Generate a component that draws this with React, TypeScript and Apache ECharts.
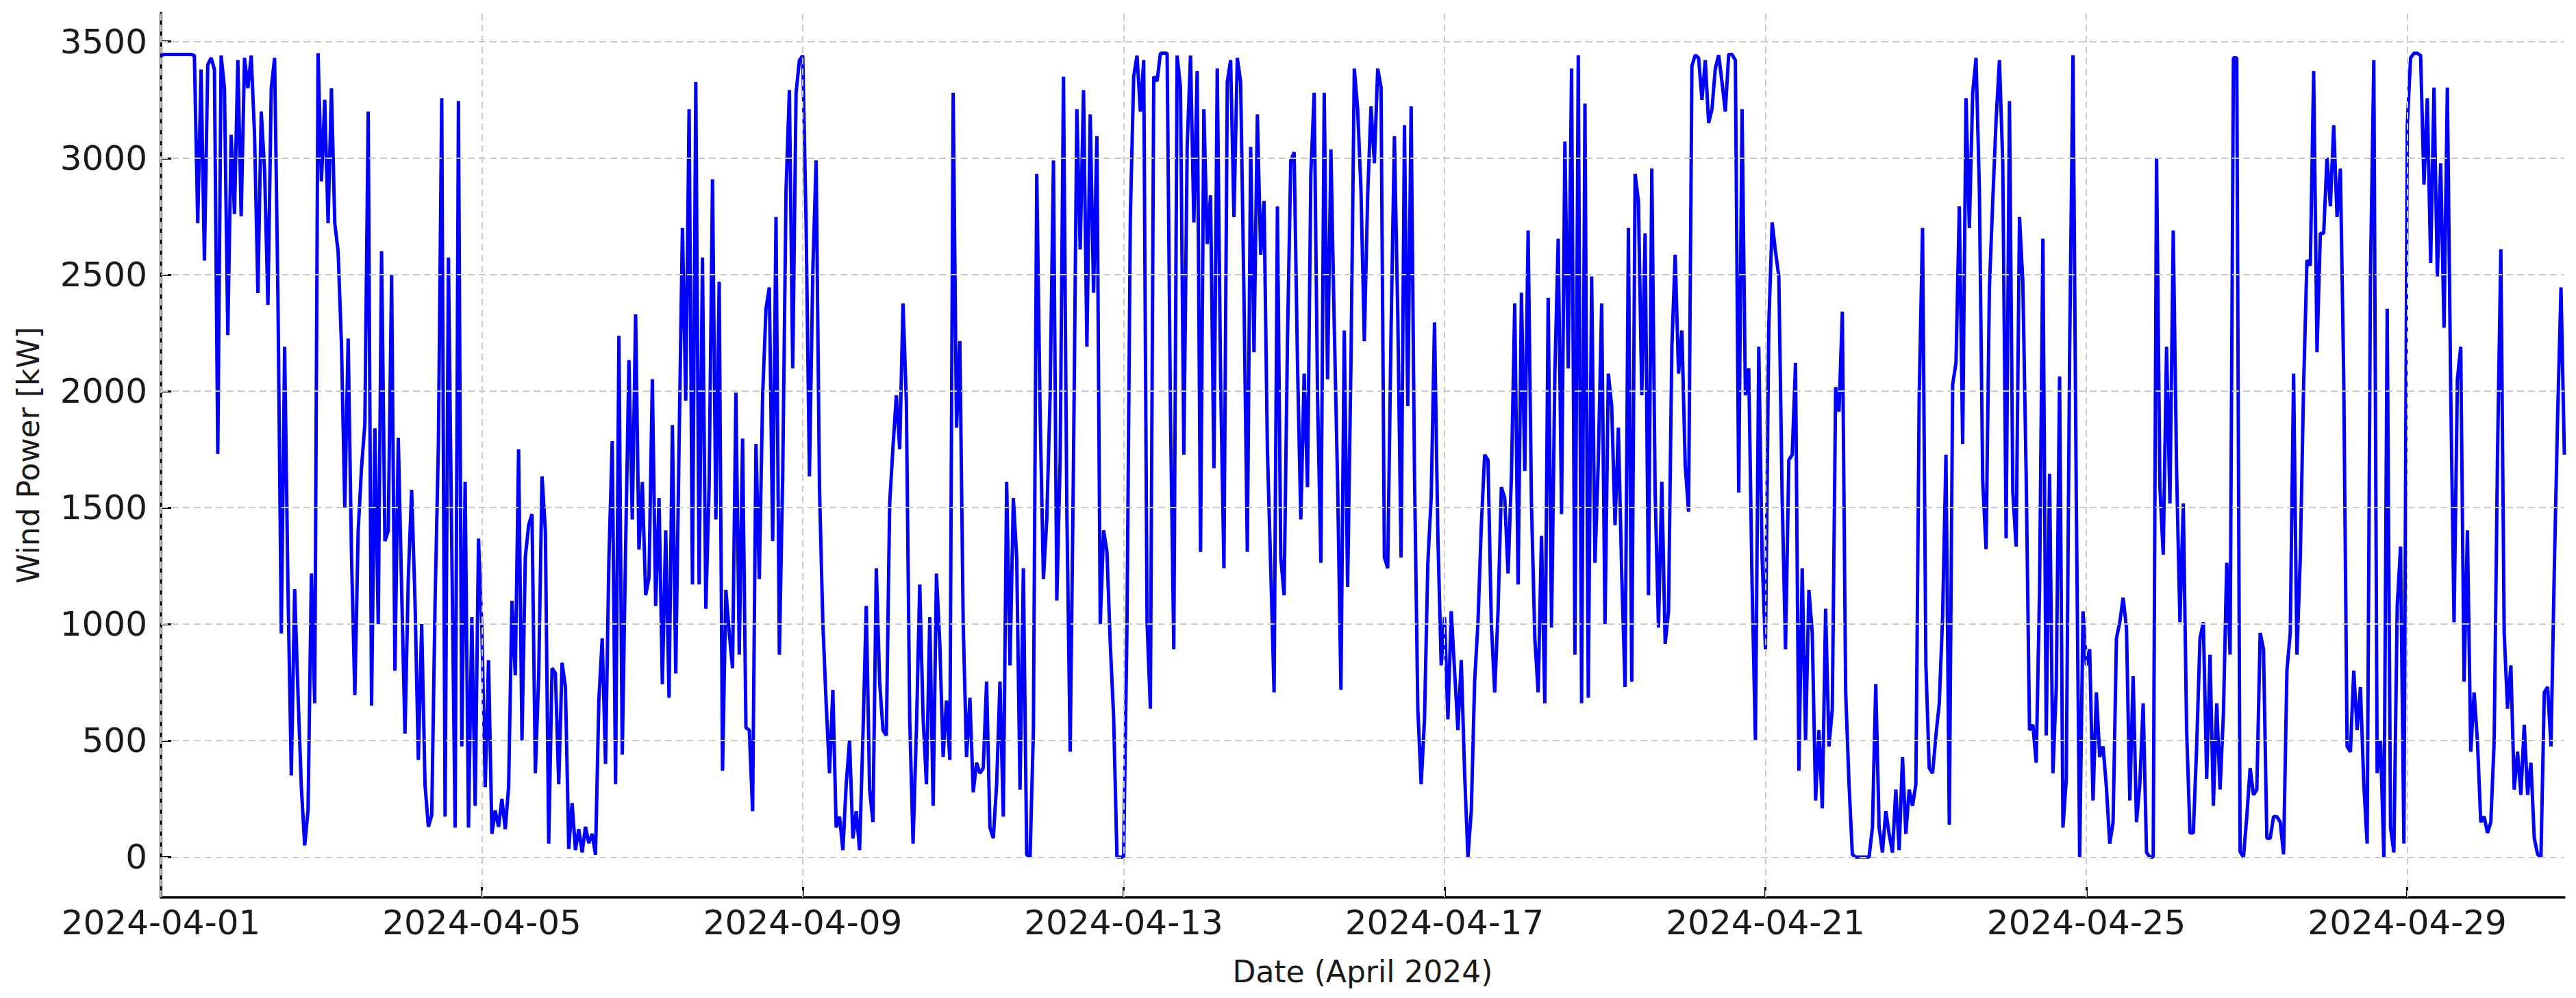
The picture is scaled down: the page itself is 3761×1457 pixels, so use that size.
import React, { useEffect, useRef } from 'react';
import * as echarts from 'echarts';

// Hourly wind power [kW], April 2024
const powerApr01to04 = [
  3440, 3445, 3445, 3445, 3445, 3445, 3445, 3445, 3445, 3445,
  3440, 2720, 3380, 2560, 3400, 3430, 3380, 1730, 3440, 3300,
  2240, 3100, 2760, 3420, 2750, 3430, 3300, 3440, 3100, 2420,
  3200, 2950, 2370, 3300, 3430, 2400, 960, 2190, 1150, 350,
  1150, 700, 300, 50, 200, 1217, 660, 3450, 2900, 3250,
  2720, 3300, 2720, 2600, 2200, 1500, 2225, 1300, 695, 1400,
  1670, 1860, 3200, 650, 1840, 1000, 2600, 1356, 1400, 2500,
  800, 1800, 1150, 530, 1200, 1576, 1100, 417, 1000, 310,
  130, 180, 1090, 1773, 3257, 174, 2573, 1333, 127, 3245,
  475, 1610, 127, 1030, 220, 1367,
];
const powerApr05to08 = [
  980, 300, 845, 100, 200, 130, 250, 120, 300, 1100,
  780, 1750, 500, 1286, 1425, 1472, 360, 777, 1634, 1400,
  58, 811, 790, 313, 834, 730, 35, 232, 30, 120,
  20, 130, 60, 100, 10, 672, 939, 400, 1275, 1785,
  313, 2237, 440, 1320, 2133, 1449, 2330, 1320, 1610, 1124,
  1200, 2051, 1078, 1541, 742, 1402, 684, 1854, 788, 1773,
  2700, 1959, 3210, 1170, 3326, 1170, 2573, 1066, 1600, 2909,
  1449, 2469, 371, 1147, 962, 811, 1993, 869, 1796, 556,
  545, 197, 1773, 1194, 1982, 2353, 2445, 1356, 2747, 869,
  1634, 2862, 3292, 2098, 3280, 3420,
];
const powerApr09to12 = [
  3440, 2720, 1634, 2510, 2990, 1588, 1008, 660, 360, 718,
  127, 174, 30, 313, 500, 80, 197, 30, 522, 1078,
  290, 150, 1240, 753, 545, 522, 1518, 1762, 1982, 1750,
  2376, 1950, 591, 58, 545, 1170, 600, 313, 1030, 220,
  1217, 915, 430, 672, 417, 3280, 1843, 2214, 1000, 430,
  684, 278, 405, 360, 382, 753, 127, 81, 313, 753,
  174, 1610, 823, 1541, 1286, 290, 1240, 10, 0, 545,
  2932, 1912, 1194, 1449, 1982, 2990, 1101, 1704, 3350, 1495,
  452, 1704, 3210, 2608, 3292, 2190, 3187, 2422, 3094, 1000,
  1402, 1310, 915, 600, 0, 0,
];
const powerApr13to16 = [
  0, 1000, 2747, 3350, 3440, 3200, 3420, 1008, 637, 3350,
  3330, 3450, 3450, 3450, 1912, 892, 3440, 3303, 1727, 3048,
  3440, 2724, 3373, 1310, 3210, 2631, 2840, 1669, 3384, 2051,
  1240, 3326, 3420, 2747, 3430, 3326, 2400, 1310, 3048, 2167,
  3187, 2585, 2816, 1750, 1240, 707, 2793, 1286, 1124, 2214,
  2990, 3025, 2121, 1449, 2075, 1588, 2932, 3280, 1982, 1263,
  3280, 2051, 3037, 2283, 1611, 718, 2260, 1159, 2121, 3384,
  3210, 2862, 2214, 2840, 3222, 2978, 3384, 3303, 1286, 1240,
  2260, 3094, 2330, 1286, 3141, 1935, 3222, 1657, 637, 313,
  591, 1263, 1541, 2295, 1379, 823,
];
const powerApr17to20 = [
  1030, 591, 1055, 800, 545, 846, 360, 0, 200, 753,
  1008, 1425, 1727, 1704, 1000, 707, 1055, 1588, 1541, 1217,
  1634, 2376, 1170, 2422, 1657, 2689, 1518, 939, 707, 1379,
  660, 2400, 985, 2075, 2654, 1472, 3071, 2098, 3384, 869,
  3442, 660, 3234, 684, 2492, 1263, 1704, 2376, 1000, 2075,
  1935, 1425, 1843, 1217, 730, 2700, 753, 2932, 2816, 1982,
  2677, 1124, 2955, 1565, 985, 1611, 915, 1055, 2190, 2585,
  2075, 2260, 1680, 1483, 3396, 3442, 3430, 3250, 3420, 3150,
  3210, 3384, 3442, 3326, 3200, 3445, 3445, 3420, 1565, 3210,
  1982, 2098, 1170, 500, 2190, 1286,
];
const powerApr21to24 = [
  892, 2283, 2724, 2600, 2492, 1541, 892, 1704, 1727, 2121,
  371, 1240, 500, 1147, 962, 243, 545, 209, 1066, 475,
  637, 2017, 1912, 2341, 707, 313, 12, 0, 0, 0,
  0, 0, 127, 742, 127, 20, 197, 100, 20, 290,
  30, 430, 100, 290, 220, 313, 1982, 2700, 823, 382,
  360, 522, 660, 1031, 1727, 139, 2028, 2121, 2793, 1773,
  3257, 2700, 3280, 3430, 2862, 1611, 1321, 2445, 2816, 3164,
  3420, 2978, 1368, 3245, 1565, 1333, 2747, 2469, 1634, 545,
  568, 405, 1147, 2654, 522, 1645, 360, 730, 2063, 127,
  336, 2167, 3442, 1518, 0, 1055,
];
const powerApr25to28 = [
  823, 892, 243, 707, 430, 475, 300, 58, 150, 939,
  1008, 1113, 985, 243, 777, 150, 313, 660, 20, 0,
  0, 3002, 1588, 1298, 2190, 1518, 2689, 1657, 1008, 1518,
  545, 104, 104, 475, 939, 1008, 336, 869, 220, 660,
  290, 614, 1263, 869, 3430, 3430, 23, 0, 174, 382,
  267, 290, 962, 892, 81, 81, 174, 174, 150, 12,
  800, 962, 2075, 869, 1286, 2028, 2562, 2539, 3373, 2167,
  2677, 2677, 3002, 2793, 3141, 2747, 2955, 2051, 475, 452,
  800, 545, 730, 313, 58, 2500, 3420, 360, 500, 0,
  2353, 127, 20, 1078, 1333, 58,
];
const powerApr29to30 = [
  3141, 3430, 3450, 3450, 3440, 2886, 3257, 2550, 3303, 2492,
  2978, 2272, 3303, 2005, 1008, 2051, 2190, 753, 1402, 452,
  707, 498, 150, 174, 104, 150, 498, 1727, 2608, 962,
  637, 823, 290, 452, 267, 568, 267, 405, 81, 12,
  0, 707, 730, 475, 1240, 1900, 2445, 1727,
];

const windPower = [
  ...powerApr01to04,
  ...powerApr05to08,
  ...powerApr09to12,
  ...powerApr13to16,
  ...powerApr17to20,
  ...powerApr21to24,
  ...powerApr25to28,
  ...powerApr29to30,
];

// x is hours since 2024-04-01 00:00
const xTickHours = [0, 96, 192, 288, 384, 480, 576, 672];
const xTickLabels = [
  '2024-04-01', '2024-04-05', '2024-04-09', '2024-04-13',
  '2024-04-17', '2024-04-21', '2024-04-25', '2024-04-29',
];
const yTicks = [0, 500, 1000, 1500, 2000, 2500, 3000, 3500];

export default function App() {
  const ref = useRef<HTMLDivElement>(null);

  useEffect(() => {
    if (!ref.current) return;
    const chart = echarts.init(ref.current, null, { renderer: 'svg' });
    const data = windPower.map((v, i) => [i, v]);
    const font = 'DejaVu Sans';
    const gridLine = { type: [10, 6] as any, color: '#cccccc', width: 2 };

    chart.setOption({
      animation: false,
      backgroundColor: '#ffffff',
      textStyle: { fontFamily: font },
      grid: { left: 235, top: 19, right: 17, bottom: 147, containLabel: false },
      xAxis: {
        type: 'value',
        min: 0,
        max: windPower.length - 1,
        name: 'Date (April 2024)',
        nameLocation: 'middle',
        nameGap: 86,
        nameTextStyle: { fontSize: 44, color: '#1a1a1a', fontFamily: font },
        axisLine: { show: true, onZero: false, lineStyle: { color: '#000000', width: 3.5 } },
        axisTick: {
          show: true,
          inside: true,
          length: 15,
          customValues: xTickHours,
          lineStyle: { color: '#000000', width: 3 },
        },
        axisLabel: {
          customValues: xTickHours,
          fontSize: 50,
          color: '#1a1a1a',
          fontFamily: font,
          margin: 12,
          formatter: (v: number) => {
            const i = xTickHours.indexOf(Math.round(v));
            return i >= 0 ? xTickLabels[i] : '';
          },
        },
        splitLine: { show: false },
      },
      yAxis: {
        type: 'value',
        min: -172.5,
        max: 3622.5,
        name: 'Wind Power [kW]',
        nameLocation: 'middle',
        nameGap: 172,
        nameRotate: 90,
        nameTextStyle: { fontSize: 44, color: '#1a1a1a', fontFamily: font },
        axisLine: { show: true, onZero: false, lineStyle: { color: '#000000', width: 3.5 } },
        axisTick: {
          show: true,
          inside: true,
          length: 15,
          customValues: yTicks,
          lineStyle: { color: '#000000', width: 3 },
        },
        axisLabel: {
          customValues: yTicks,
          fontSize: 50,
          color: '#1a1a1a',
          fontFamily: font,
          margin: 20,
          formatter: (v: number) => String(Math.round(v)),
        },
        splitLine: { show: false },
      },
      series: [
        {
          type: 'line',
          data: [],
          z: 1,
          silent: true,
          markLine: {
            silent: true,
            symbol: ['none', 'none'],
            label: { show: false },
            lineStyle: gridLine,
            emphasis: { disabled: true },
            data: [
              ...yTicks.map((v) => ({ yAxis: v })),
              ...xTickHours.map((v) => ({ xAxis: v })),
            ],
          },
        },
        {
          type: 'line',
          data,
          z: 3,
          symbol: 'none',
          showSymbol: false,
          lineStyle: { color: '#0000ff', width: 5 },
        },
      ],
    });

    return () => chart.dispose();
  }, []);

  return (
    <div
      ref={ref}
      style={{ position: 'fixed', left: 0, top: 0, width: 3761, height: 1457, background: '#ffffff' }}
    />
  );
}
